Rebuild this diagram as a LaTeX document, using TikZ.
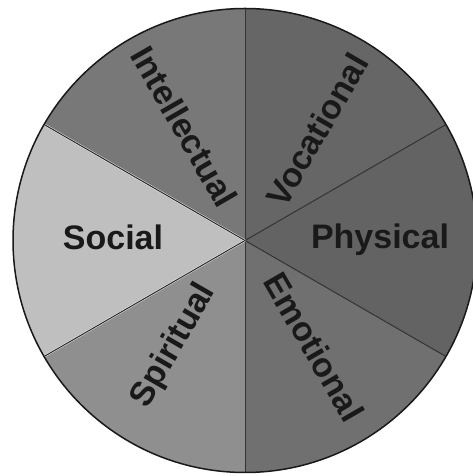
\documentclass[tikz,border=0pt]{standalone}
\usepackage{fontspec}
\setmainfont{Liberation Sans}
\usetikzlibrary{calc}
\begin{document}
\begin{tikzpicture}[x=1pt,y=1pt,
  lbl/.style={font=\fontsize{34}{34}\selectfont\bfseries, text=black!90, inner sep=0pt}]
\useasboundingbox (0,0) rectangle (473,476);
\coordinate (c) at (245,235.5);
\def\R{232}
\fill[fill=black!60] (c) -- ++(30:\R) arc (30:90:\R) -- cycle;
\fill[fill=black!53] (c) -- ++(90:\R) arc (90:150:\R) -- cycle;
\fill[fill=black!25] (c) -- ++(150:\R) arc (150:210:\R) -- cycle;
\fill[fill=black!44] (c) -- ++(210:\R) arc (210:270:\R) -- cycle;
\fill[fill=black!56] (c) -- ++(270:\R) arc (270:330:\R) -- cycle;
\fill[fill=black!61] (c) -- ++(-30:\R) arc (-30:30:\R) -- cycle;
\foreach \a in {30,90,270,330} \draw[black!80, line width=1pt] (c) -- ++(\a:\R);
\foreach \a in {150,210} {
  \draw[white!85!gray, line width=2pt] (c) -- ++(\a:\R);
  \draw[black!85, line width=1pt] (c) -- ++(\a:\R);
}
\draw[black!90, line width=1.5pt] (c) circle (\R);
\node[lbl] (social) at (113,239) {Social};
\node[lbl] (physical) at (380,236) {Physical};
\node[lbl, rotate=-60] (intellectual) at ($(c)+(118:129)$) {Intellectual};
\node[lbl, rotate=60] (vocational) at ($(c)+(57:132)$) {Vocational};
\node[lbl, rotate=-60] (emotional) at ($(c)+(-57:127)$) {Emotional};
\node[lbl, rotate=60] (spiritual) at ($(c)+(236:127)$) {Spiritual};
\end{tikzpicture}
\end{document}
